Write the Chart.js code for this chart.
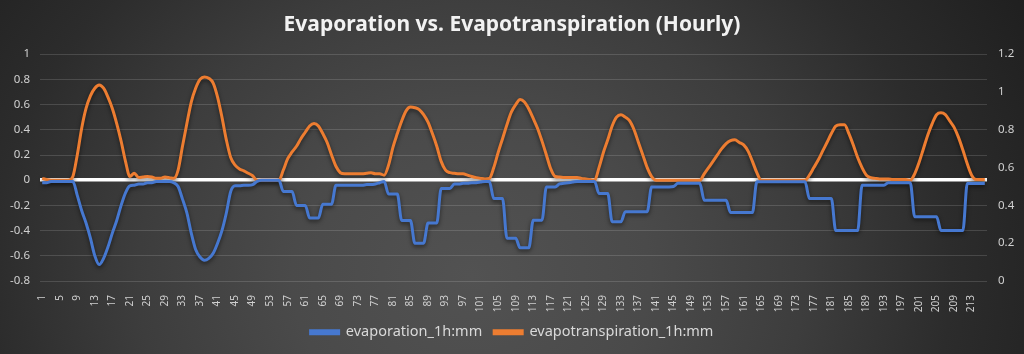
<!DOCTYPE html>
<html>
<head>
<meta charset="utf-8">
<script src="https://cdn.jsdelivr.net/npm/chart.js@4.4.1/dist/chart.umd.min.js"></script>
<style>
  html, body { margin: 0; padding: 0; }
  body {
    width: 1024px; height: 354px; overflow: hidden;
    background: radial-gradient(ellipse 640px 560px at 46% 78%, #525252 0%, #4a4a4a 28%, #3d3d3d 52%, #2c2c2c 75%, #1f1f1f 100%);
  }
  #wrap { position: relative; width: 1024px; height: 354px; }
</style>
</head>
<body>
<div id="wrap"><canvas id="myChart"></canvas></div>
<script>
// hour index 1..216 (9 days)
const hours = Array.from({length: 216}, (_, i) => String(i + 1))

// evaporation_1h:mm, left axis
const evaporation = [
  -0.02, -0.02, -0.01, -0.01, -0.01, -0.01, -0.01, -0.01, -0.12, -0.24, -0.34, -0.46, -0.6, -0.67, -0.62, -0.53, -0.42, -0.32, -0.2, -0.1, -0.045, -0.04, -0.03, -0.03,
  -0.02, -0.02, -0.01, -0.01, -0.01, -0.01, -0.02, -0.05, -0.15, -0.26, -0.42, -0.55, -0.61, -0.635, -0.62, -0.58, -0.5, -0.4, -0.26, -0.09, -0.045, -0.045, -0.04, -0.04,
  -0.035, -0.01, 0, 0, 0, 0, 0, -0.09, -0.09, -0.09, -0.2, -0.2, -0.2, -0.3, -0.3, -0.3, -0.19, -0.19, -0.19, -0.04, -0.04, -0.04, -0.04, -0.04,
  -0.04, -0.04, -0.035, -0.035, -0.03, -0.02, -0.01, -0.11, -0.11, -0.11, -0.32, -0.32, -0.32, -0.5, -0.5, -0.5, -0.34, -0.34, -0.34, -0.066, -0.066, -0.066, -0.03, -0.03,
  -0.025, -0.025, -0.02, -0.02, -0.015, -0.01, -0.01, -0.145, -0.145, -0.145, -0.46, -0.46, -0.46, -0.537, -0.537, -0.537, -0.317, -0.317, -0.317, -0.053, -0.053, -0.053, -0.03, -0.025,
  -0.02, -0.015, -0.01, -0.01, -0.01, -0.01, -0.01, -0.106, -0.106, -0.106, -0.33, -0.33, -0.33, -0.25, -0.25, -0.25, -0.25, -0.25, -0.25, -0.053, -0.053, -0.053, -0.053, -0.053,
  -0.05, -0.025, -0.025, -0.025, -0.025, -0.025, -0.025, -0.16, -0.16, -0.16, -0.16, -0.16, -0.16, -0.257, -0.257, -0.257, -0.257, -0.257, -0.257, -0.013, -0.013, -0.013, -0.013, -0.013,
  -0.013, -0.013, -0.013, -0.013, -0.013, -0.013, -0.013, -0.145, -0.145, -0.145, -0.145, -0.145, -0.145, -0.4, -0.4, -0.4, -0.4, -0.4, -0.4, -0.04, -0.04, -0.04, -0.04, -0.04,
  -0.04, -0.02, -0.02, -0.02, -0.02, -0.02, -0.02, -0.29, -0.29, -0.29, -0.29, -0.29, -0.29, -0.4, -0.4, -0.4, -0.4, -0.4, -0.4, -0.026, -0.026, -0.026, -0.026, -0.026
]

// evapotranspiration_1h:mm, right axis
const evapotranspiration = [
  0.543, 0.537, 0.533, 0.533, 0.533, 0.533, 0.533, 0.553, 0.667, 0.807, 0.913, 0.98, 1.02, 1.037, 1.02, 0.973, 0.913, 0.833, 0.74, 0.633, 0.553, 0.57, 0.547, 0.55,
  0.553, 0.55, 0.543, 0.543, 0.55, 0.547, 0.543, 0.587, 0.713, 0.833, 0.947, 1.02, 1.067, 1.08, 1.073, 1.047, 0.973, 0.867, 0.747, 0.653, 0.613, 0.593, 0.583, 0.57,
  0.557, 0.533, 0.533, 0.533, 0.533, 0.533, 0.533, 0.587, 0.647, 0.683, 0.713, 0.753, 0.787, 0.82, 0.833, 0.82, 0.78, 0.733, 0.667, 0.607, 0.573, 0.567, 0.567, 0.567,
  0.567, 0.567, 0.57, 0.573, 0.567, 0.567, 0.56, 0.613, 0.707, 0.78, 0.847, 0.9, 0.92, 0.917, 0.907, 0.88, 0.84, 0.78, 0.713, 0.633, 0.587, 0.573, 0.57, 0.567,
  0.567, 0.56, 0.553, 0.547, 0.543, 0.54, 0.543, 0.6, 0.68, 0.753, 0.827, 0.893, 0.933, 0.96, 0.947, 0.91, 0.86, 0.807, 0.74, 0.667, 0.593, 0.553, 0.55, 0.547,
  0.547, 0.547, 0.547, 0.543, 0.54, 0.537, 0.533, 0.6, 0.68, 0.747, 0.82, 0.867, 0.88, 0.867, 0.847, 0.8, 0.733, 0.667, 0.6, 0.553, 0.533, 0.533, 0.533, 0.533,
  0.533, 0.533, 0.533, 0.533, 0.533, 0.533, 0.533, 0.567, 0.6, 0.633, 0.667, 0.7, 0.727, 0.743, 0.747, 0.733, 0.72, 0.687, 0.633, 0.573, 0.533, 0.533, 0.533, 0.533,
  0.533, 0.533, 0.533, 0.533, 0.533, 0.533, 0.533, 0.56, 0.6, 0.64, 0.687, 0.733, 0.78, 0.82, 0.827, 0.827, 0.78, 0.72, 0.653, 0.6, 0.56, 0.547, 0.543, 0.54,
  0.54, 0.54, 0.537, 0.537, 0.537, 0.537, 0.533, 0.567, 0.627, 0.7, 0.773, 0.833, 0.88, 0.89, 0.88, 0.847, 0.813, 0.76, 0.693, 0.62, 0.56, 0.537, 0.537, 0.537
]

const leftTicks = { min: -0.8, max: 1, step: 0.2 }
const rightTicks = { min: 0, max: 1.2, step: 0.2 }

const tickColor = '#d0d0d0'
const fontFam = '"Noto Sans", "DejaVu Sans", sans-serif'

// soft drop shadow under the series lines
const lineShadow = {
  id: 'lineShadow',
  beforeDatasetDraw(chart) {
    const c = chart.ctx
    c.save()
    c.shadowColor = 'rgba(0,0,0,0.55)'
    c.shadowBlur = 4
    c.shadowOffsetY = 2
  },
  afterDatasetDraw(chart) {
    chart.ctx.restore()
  }
}

const ctx = document.getElementById('myChart').getContext('2d')

const chart = new Chart(ctx, {
  type: 'line',
  data: {
    labels: hours,
    datasets: [{
      label: 'evaporation_1h:mm',
      data: evaporation,
      yAxisID: 'y',
      borderColor: '#4678d0',
      backgroundColor: '#4678d0',
      borderWidth: 3,
      pointRadius: 0,
      cubicInterpolationMode: 'monotone'
    }, {
      label: 'evapotranspiration_1h:mm',
      data: evapotranspiration,
      yAxisID: 'y1',
      borderColor: '#ed7d31',
      backgroundColor: '#ed7d31',
      borderWidth: 3,
      pointRadius: 0,
      cubicInterpolationMode: 'monotone'
    }]
  },
  options: {
    responsive: true,
    maintainAspectRatio: false,
    animation: false,
    layout: { padding: { top: 8, bottom: 4.5, left: 0, right: 0 } },
    plugins: {
      title: {
        display: true,
        text: 'Evaporation vs. Evapotranspiration (Hourly)',
        color: '#f2f2f2',
        font: { family: fontFam, size: 21, weight: 'bold' },
        padding: { top: 4, bottom: 17 }
      },
      legend: {
        position: 'bottom',
        labels: {
          color: '#d9d9d9',
          font: { family: fontFam, size: 14.5 },
          boxWidth: 28,
          boxHeight: 3,
          padding: 12
        }
      },
      tooltip: { enabled: false }
    },
    scales: {
      x: {
        offset: true,
        grid: { display: false },
        border: { display: false },
        ticks: {
          color: tickColor,
          font: { family: fontFam, size: 10 },
          autoSkip: false,
          maxRotation: 90,
          minRotation: 90,
          padding: 6,
          callback: function(v, i) {
            return i % 4 === 0 ? hours[i] : ''
          }
        },
        afterFit: (s) => { s.height = 32 }
      },
      y: {
        position: 'left',
        min: leftTicks.min,
        max: leftTicks.max,
        border: { display: false },
        grid: {
          drawTicks: false,
          color: (c) => c.tick && c.tick.value === 0 ? '#ffffff' : 'rgba(255,255,255,0.14)',
          lineWidth: (c) => c.tick && c.tick.value === 0 ? 3.5 : 1
        },
        ticks: {
          stepSize: leftTicks.step,
          color: tickColor,
          font: { family: fontFam, size: 11.5 },
          padding: 10,
          callback: (v) => String(Number(v.toFixed(1)))
        },
        afterFit: (s) => { s.width = 40 }
      },
      y1: {
        position: 'right',
        min: rightTicks.min,
        max: rightTicks.max,
        border: { display: false },
        grid: { display: false, drawTicks: false },
        ticks: {
          stepSize: rightTicks.step,
          color: tickColor,
          font: { family: fontFam, size: 11.5 },
          padding: 11,
          callback: (v) => String(Number(v.toFixed(1)))
        },
        afterFit: (s) => { s.width = 37 }
      }
    }
  },
  plugins: [lineShadow]
})
</script>
</body>
</html>
